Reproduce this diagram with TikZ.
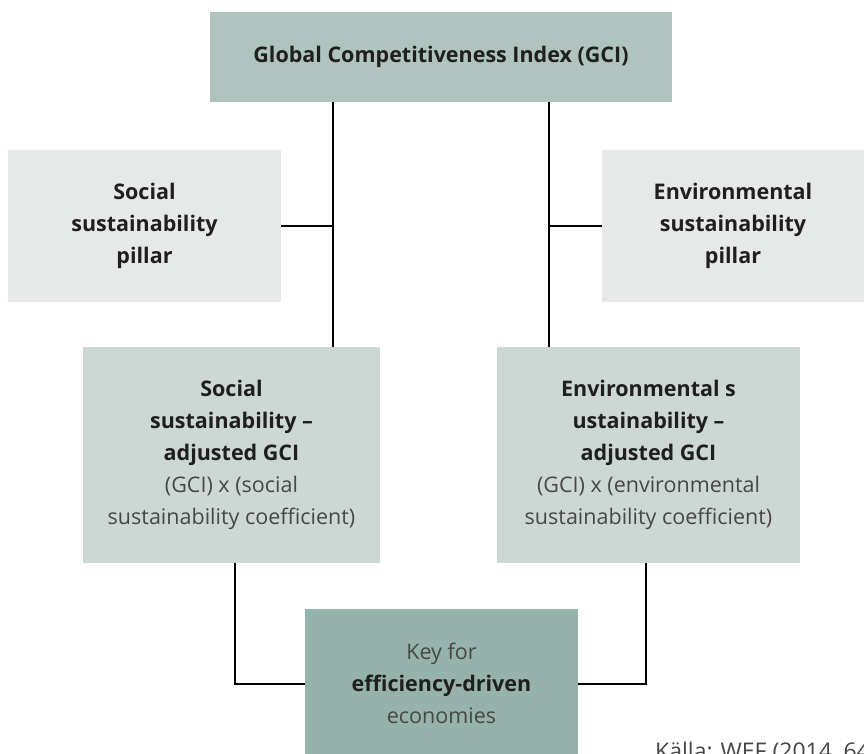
\documentclass[tikz,border=0pt]{standalone}
\usepackage{fontspec}
\setmainfont{Open Sans}
\begin{document}
\begin{tikzpicture}[x=1pt,y=-1pt,
  box/.style={draw=none, inner sep=0pt, align=center, text=black!72, font=\fontsize{21.5}{32}\selectfont},
  conn/.style={draw=black, line width=2.6pt}]
\useasboundingbox (0,0) rectangle (864,753);
\definecolor{cgci}{HTML}{B0C4BF}
\definecolor{cpil}{HTML}{E6E9E8}
\definecolor{cadj}{HTML}{CDD8D4}
\definecolor{ckey}{HTML}{95B3AB}
\newcommand{\hb}[1]{\textcolor{black!88}{\bfseries #1}}
\node[box, fill=cgci, minimum width=462pt, minimum height=90pt] (gci) at (441,57) {\hb{Global Competitiveness Index (GCI)}};
\node[box, fill=cpil, minimum width=273pt, minimum height=152pt] (spil) at (144.5,226) {\hb{Social}\\\hb{sustainability}\\\hb{pillar}};
\node[box, fill=cpil, minimum width=262pt, minimum height=152pt] (epil) at (733,226) {\hb{Environmental}\\\hb{sustainability}\\\hb{pillar}};
\node[box, fill=cadj, minimum width=297pt, minimum height=216pt] (sadj) at (231.5,455) {\hb{Social}\\\hb{sustainability --}\\\hb{adjusted GCI}\\(GCI) x (social\\sustainability coefficient)};
\node[box, fill=cadj, minimum width=303pt, minimum height=216pt] (eadj) at (648.5,455) {\hb{Environmental s}\\\hb{ustainability --}\\\hb{adjusted GCI}\\(GCI) x (environmental\\sustainability coefficient)};
\node[box, fill=ckey, minimum width=273pt, minimum height=148pt] (key) at (441.5,683) {Key for\\\hb{efficiency-driven}\\economies};
\node[anchor=base west, inner sep=0pt, text=black!72, font=\fontsize{23}{26}\selectfont] (src) at (655,759) {Källa: WEF (2014, 64};
\coordinate (sj) at (333,226);
\coordinate (ej) at (549,226);
\coordinate (sb) at (235,684);
\coordinate (eb) at (646,684);
\draw[conn] (gci.south -| sj) -- (sadj.north -| sj);
\draw[conn] (sj) -- (spil.east |- sj);
\draw[conn] (gci.south -| ej) -- (eadj.north -| ej);
\draw[conn] (ej) -- (epil.west |- ej);
\draw[conn] (sadj.south -| sb) -- (sb) -- (key.west |- sb);
\draw[conn] (eadj.south -| eb) -- (eb) -- (key.east |- eb);
\end{tikzpicture}
\end{document}
